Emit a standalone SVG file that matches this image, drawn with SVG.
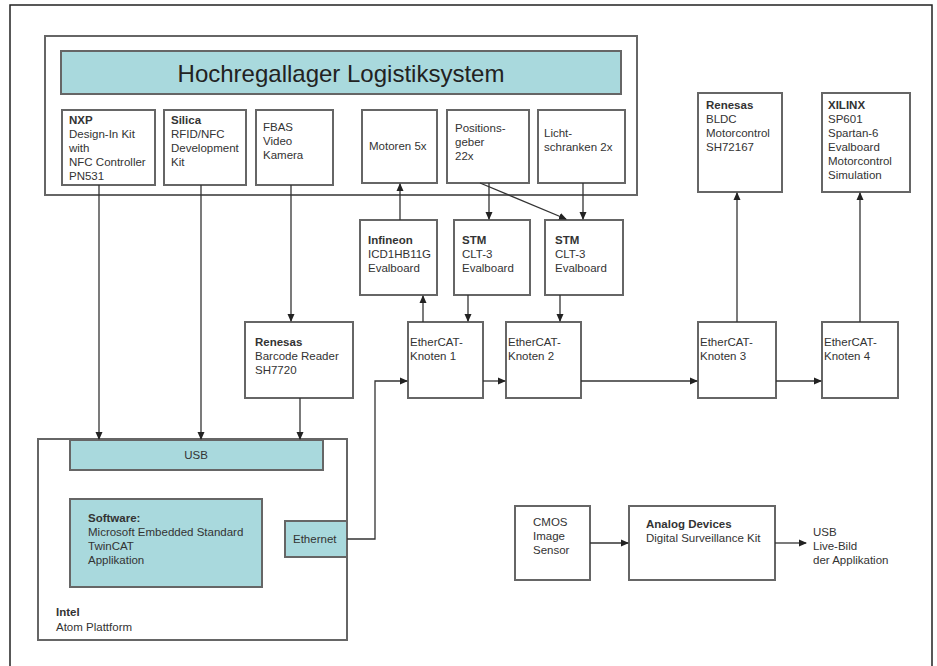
<svg xmlns="http://www.w3.org/2000/svg" width="937" height="666" viewBox="0 0 937 666">
<defs>
<marker id="ah" markerWidth="8" markerHeight="8" refX="7" refY="4" orient="auto" markerUnits="userSpaceOnUse"><path d="M0,0.5 L8,4 L0,7.5 z" fill="#222"/></marker>
<style>
.box{fill:#fff;stroke:#666;stroke-width:2}
.cy{fill:#a9d9dd;stroke:#666;stroke-width:2}
text{font-family:"Liberation Sans",Arial,sans-serif;font-size:11.5px;fill:#333}
.b{font-weight:bold}
.c{stroke:#333;stroke-width:1.3;fill:none;marker-end:url(#ah)}
</style>
</defs>
<rect x="0" y="0" width="937" height="666" fill="#fff"/>
<path d="M10,672 V5 H932 V672" fill="none" stroke="#222" stroke-width="1.5"/>

<g id="system">
<rect class="box" x="45" y="36" width="592" height="159"/>
<rect class="cy" x="61" y="51" width="560" height="43"/>
<text x="341" y="82" text-anchor="middle" style="font-size:24px;fill:#222">Hochregallager Logistiksystem</text>
</g>
<g id="nxp"><rect class="box" x="62" y="110" width="93" height="75"/>
<text x="69" y="124"><tspan class="b">NXP</tspan><tspan x="69" dy="14">Design-In Kit</tspan><tspan x="69" dy="14">with</tspan><tspan x="69" dy="14">NFC Controller</tspan><tspan x="69" dy="14">PN531</tspan></text></g>
<g id="silica"><rect class="box" x="164" y="110" width="82" height="75"/>
<text x="171" y="124"><tspan class="b">Silica</tspan><tspan x="171" dy="14">RFID/NFC</tspan><tspan x="171" dy="14">Development</tspan><tspan x="171" dy="14">Kit</tspan></text></g>
<g id="fbas"><rect class="box" x="256" y="110" width="77" height="75"/>
<text x="263" y="131"><tspan>FBAS</tspan><tspan x="263" dy="14">Video</tspan><tspan x="263" dy="14">Kamera</tspan></text></g>
<g id="motoren"><rect class="box" x="362" y="110" width="75" height="73"/>
<text x="369" y="150">Motoren 5x</text></g>
<g id="positionsgeber"><rect class="box" x="447" y="110" width="82" height="73"/>
<text x="455" y="132"><tspan>Positions-</tspan><tspan x="455" dy="14">geber</tspan><tspan x="455" dy="14">22x</tspan></text></g>
<g id="licht"><rect class="box" x="538" y="110" width="87" height="73"/>
<text x="544" y="137"><tspan>Licht-</tspan><tspan x="544" dy="14">schranken 2x</tspan></text></g>

<g id="infineon"><rect class="box" x="360" y="220" width="77" height="75"/>
<text x="368" y="244"><tspan class="b">Infineon</tspan><tspan x="368" dy="14">ICD1HB11G</tspan><tspan x="368" dy="14">Evalboard</tspan></text></g>
<g id="stm1"><rect class="box" x="454" y="220" width="76" height="75"/>
<text x="462" y="244"><tspan class="b">STM</tspan><tspan x="462" dy="14">CLT-3</tspan><tspan x="462" dy="14">Evalboard</tspan></text></g>
<g id="stm2"><rect class="box" x="545" y="220" width="78" height="75"/>
<text x="555" y="244"><tspan class="b">STM</tspan><tspan x="555" dy="14">CLT-3</tspan><tspan x="555" dy="14">Evalboard</tspan></text></g>

<g id="renesas-bldc"><rect class="box" x="698" y="93" width="84" height="99"/>
<text x="706" y="109"><tspan class="b">Renesas</tspan><tspan x="706" dy="14">BLDC</tspan><tspan x="706" dy="14">Motorcontrol</tspan><tspan x="706" dy="14">SH72167</tspan></text></g>
<g id="xilinx"><rect class="box" x="822" y="93" width="88" height="99"/>
<text x="828" y="109"><tspan class="b">XILINX</tspan><tspan x="828" dy="14">SP601</tspan><tspan x="828" dy="14">Spartan-6</tspan><tspan x="828" dy="14">Evalboard</tspan><tspan x="828" dy="14">Motorcontrol</tspan><tspan x="828" dy="14">Simulation</tspan></text></g>

<g id="barcode"><rect class="box" x="245" y="322" width="108" height="76"/>
<text x="255" y="346"><tspan class="b">Renesas</tspan><tspan x="255" dy="14">Barcode Reader</tspan><tspan x="255" dy="14">SH7720</tspan></text></g>
<g id="knoten1"><rect class="box" x="408" y="322" width="75" height="76"/>
<text x="410" y="346"><tspan>EtherCAT-</tspan><tspan x="410" dy="14">Knoten 1</tspan></text></g>
<g id="knoten2"><rect class="box" x="506" y="322" width="75" height="76"/>
<text x="508" y="346"><tspan>EtherCAT-</tspan><tspan x="508" dy="14">Knoten 2</tspan></text></g>
<g id="knoten3"><rect class="box" x="698" y="322" width="78" height="76"/>
<text x="700" y="346"><tspan>EtherCAT-</tspan><tspan x="700" dy="14">Knoten 3</tspan></text></g>
<g id="knoten4"><rect class="box" x="822" y="322" width="76" height="76"/>
<text x="824" y="346"><tspan>EtherCAT-</tspan><tspan x="824" dy="14">Knoten 4</tspan></text></g>

<g id="host"><rect class="box" x="38" y="439" width="309" height="201"/>
<text x="56" y="616"><tspan class="b">Intel</tspan><tspan x="56" dy="15">Atom Plattform</tspan></text></g>
<g id="usb"><rect class="cy" x="70" y="440" width="253" height="30"/>
<text x="196" y="459" text-anchor="middle">USB</text></g>
<g id="software"><rect class="cy" x="70" y="499" width="192" height="88"/>
<text x="88" y="522"><tspan class="b">Software:</tspan><tspan x="88" dy="14">Microsoft Embedded Standard</tspan><tspan x="88" dy="14">TwinCAT</tspan><tspan x="88" dy="14">Applikation</tspan></text></g>
<g id="ethernet"><rect class="cy" x="285" y="521" width="62" height="36"/>
<text x="293" y="543">Ethernet</text></g>

<g id="cmos"><rect class="box" x="515" y="506" width="75" height="74"/>
<text x="533" y="526"><tspan>CMOS</tspan><tspan x="533" dy="14">Image</tspan><tspan x="533" dy="14">Sensor</tspan></text></g>
<g id="analog"><rect class="box" x="629" y="506" width="146" height="74"/>
<text x="646" y="528"><tspan class="b">Analog Devices</tspan><tspan x="646" dy="14">Digital Surveillance Kit</tspan></text></g>
<g id="usb-out"><text x="813" y="536"><tspan>USB</tspan><tspan x="813" dy="14">Live-Bild</tspan><tspan x="813" dy="14">der Applikation</tspan></text></g>

<g id="connectors">
<path class="c" d="M99,185 V439"/>
<path class="c" d="M201,185 V439"/>
<path class="c" d="M291,185 V321"/>
<path class="c" d="M300,398 V439"/>
<path class="c" d="M347,539 H375 V381 H407"/>
<path class="c" d="M483,381 H505"/>
<path class="c" d="M581,381 H697"/>
<path class="c" d="M776,381 H821"/>
<path class="c" d="M423,322 V296"/>
<path class="c" d="M468,295 V321"/>
<path class="c" d="M560,295 V321"/>
<path class="c" d="M400,220 V184"/>
<path class="c" d="M489,183 V219"/>
<path class="c" d="M480,183 L566,219"/>
<path class="c" d="M583,183 V219"/>
<path class="c" d="M737,322 V193"/>
<path class="c" d="M860,322 V193"/>
<path class="c" d="M590,543 H628"/>
<path class="c" d="M775,543 H806"/>
</g>
</svg>
